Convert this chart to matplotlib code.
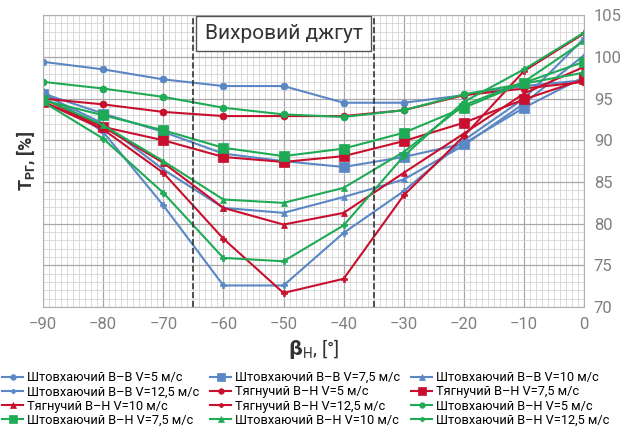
import matplotlib
matplotlib.use("Agg")
import matplotlib.pyplot as plt
from matplotlib.ticker import MultipleLocator

plt.rcParams['font.family'] = ['Roboto', 'DejaVu Sans']

angles = [-90, -80, -70, -60, -50, -40, -30, -20, -10, 0]

labels = [
    "Штовхаючий В–В V=5 м/с", "Штовхаючий В–В V=7,5 м/с", "Штовхаючий В–В V=10 м/с",
    "Штовхаючий В–В V=12,5 м/с", "Тягнучий В–Н V=5 м/с", "Тягнучий В–Н V=7,5 м/с",
    "Тягнучий В–Н V=10 м/с", "Тягнучий В–Н V=12,5 м/с", "Штовхаючий В–Н V=5 м/с",
    "Штовхаючий В–Н V=7,5 м/с", "Штовхаючий В–Н V=10 м/с", "Штовхаючий В–Н V=12,5 м/с",
]

b5 = [99.4, 98.5, 97.3, 96.5, 96.5, 94.5, 94.5, 95.4, 96.5, 97.2]
b75 = [95.6, 93.2, 91.0, 88.4, 87.5, 86.8, 88.0, 89.6, 93.9, 97.6]
b10 = [95.5, 92.0, 86.5, 81.9, 81.3, 83.2, 85.3, 89.4, 94.4, 100.2]
b125 = [95.9, 91.0, 82.2, 72.6, 72.6, 78.9, 83.9, 90.0, 95.0, 102.2]
r5 = [95.0, 94.3, 93.4, 92.9, 92.9, 92.9, 93.6, 95.4, 96.2, 97.0]
r75 = [94.6, 91.6, 90.0, 88.0, 87.4, 88.1, 89.9, 92.1, 94.9, 97.3]
r10 = [95.0, 91.6, 87.3, 81.9, 79.9, 81.3, 86.1, 90.8, 95.6, 98.8]
r125 = [94.6, 91.3, 86.1, 78.2, 71.7, 73.4, 83.4, 90.5, 98.3, 102.8]
g5 = [97.0, 96.2, 95.2, 93.9, 93.1, 92.8, 93.6, 95.5, 96.8, 98.1]
g75 = [94.8, 93.0, 91.2, 89.1, 88.1, 89.0, 90.9, 93.9, 96.9, 99.4]
g10 = [95.0, 91.8, 87.5, 82.9, 82.5, 84.3, 88.6, 94.2, 97.0, 101.9]
g125 = [94.6, 90.2, 83.7, 75.9, 75.5, 79.8, 88.1, 94.6, 98.5, 102.9]

series = [b5, b75, b10, b125, r5, r75, r10, r125, g5, g75, g10, g125]
blue, red, green = '#5b87c5', '#c8102e', '#1faa55'
colors = [blue] * 4 + [red] * 4 + [green] * 4
markers = ['o', 's', '^', 'P'] * 3
msizes = [5, 7, 5, 4] * 3

fig = plt.figure(figsize=(6.24, 4.32), dpi=100)
ax = fig.add_axes([0.069, 0.289, 0.867, 0.676])

handles = []
for s, c, m, ms, lab in zip(series, colors, markers, msizes, labels):
    h, = ax.plot(angles, s, color=c, marker=m, markersize=ms, lw=1.5, label=lab,
                 markeredgewidth=0.5)
    handles.append(h)

ax.set_xlim(-90, 0)
ax.set_ylim(70, 105)
ax.xaxis.set_major_locator(MultipleLocator(10))
ax.xaxis.set_minor_locator(MultipleLocator(1))
ax.yaxis.set_major_locator(MultipleLocator(5))
ax.yaxis.set_minor_locator(MultipleLocator(1))
ax.grid(which='major', color='#a8a8a8', lw=0.9)
ax.grid(which='minor', color='#d4d4d4', lw=0.6)
ax.set_axisbelow(True)
ax.yaxis.tick_right()
ax.tick_params(which='both', length=0, labelsize=12, labelcolor='#808080', pad=7)
for sp in ax.spines.values():
    sp.set_color('#b0b0b0')
    sp.set_linewidth(0.8)

ax.axvline(-65, color='#333333', ls='--', lw=1.2)
ax.axvline(-35, color='#333333', ls='--', lw=1.2)

ax.text(-50, 102.8, "Вихровий джгут", ha='center', va='center', fontsize=15, color='#333333',
        bbox=dict(boxstyle='square,pad=0.4', fc='white', ec='#555555', lw=1.0))

ax.set_ylabel(r"T$_{\mathregular{РГ}}$, [%]", fontsize=13, fontweight='bold', color='#333333', labelpad=4)
ax.set_xlabel(r"$\mathbf{\beta}_{\mathregular{Н}}$, [°]", fontsize=14, color='#333333', labelpad=4)

order = []
ncol = 3
nrow = 4
for col in range(ncol):
    for row in range(nrow):
        order.append(row * ncol + col)
fig.legend([handles[i] for i in order], [labels[i] for i in order], ncol=3,
           loc='upper center', bbox_to_anchor=(0.49, 1 - 371 / 432), frameon=False, fontsize=9.2,
           handlelength=1.6, handletextpad=0.3, columnspacing=0.9, labelspacing=0.1,
           borderaxespad=0.0, borderpad=0.0, markerscale=0.8)

fig.savefig("out.png", dpi=100)
